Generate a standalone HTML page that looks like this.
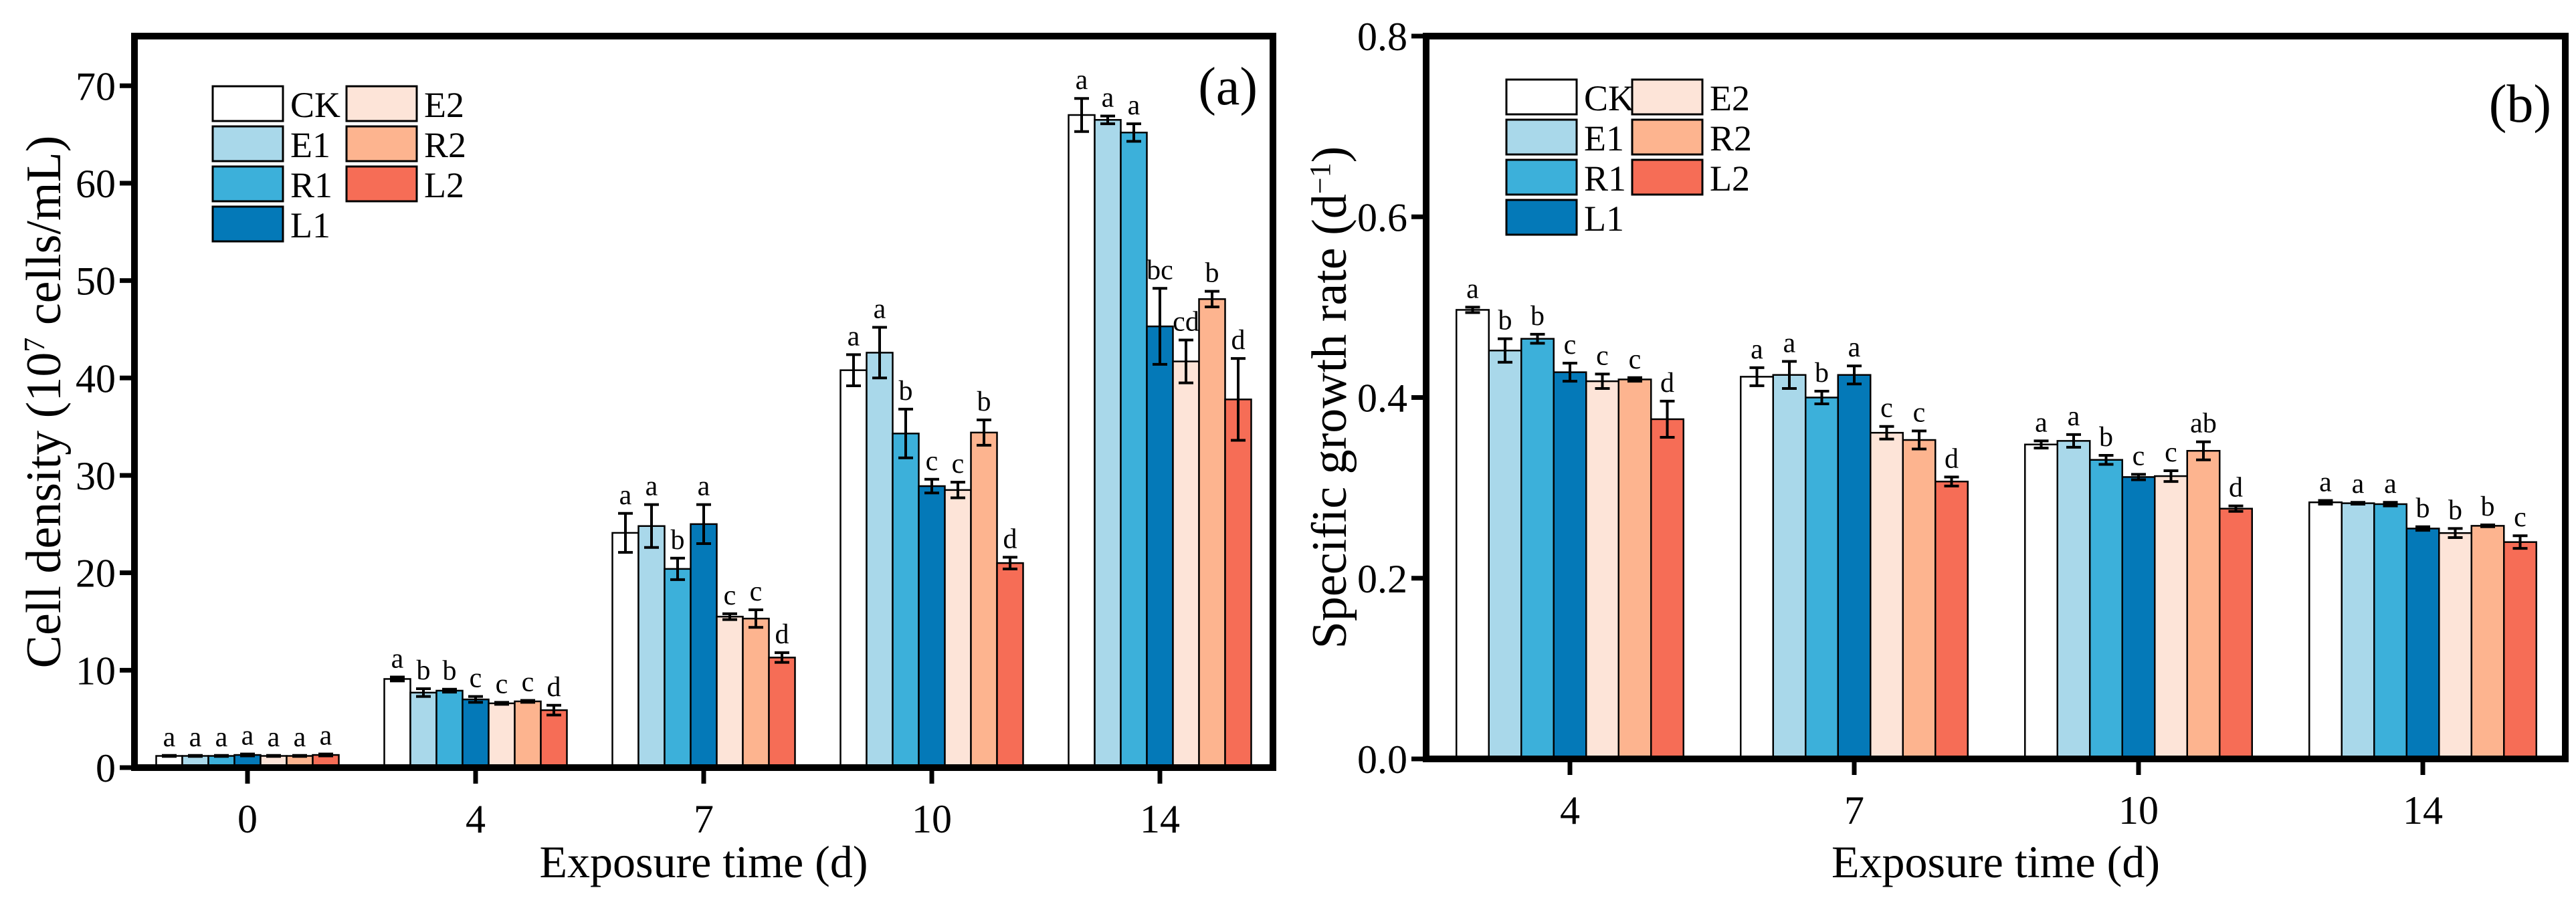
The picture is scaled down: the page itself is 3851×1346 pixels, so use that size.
<!DOCTYPE html>
<html><head><meta charset="utf-8"><style>
html,body{margin:0;padding:0;background:#fff}
svg{display:block;font-family:"Liberation Serif",serif}
</style></head><body>
<svg id="chart" width="3851" height="1346" viewBox="0 0 3851 1346" xmlns="http://www.w3.org/2000/svg"></svg>
<script>
const series = ['CK','E1','R1','L1','E2','R2','L2'];
const colors = ['#ffffff','#a9d8ea','#3cb0da','#0479b8','#fde4d8','#fdb48f','#f66d56'];
const catsA = ['0','4','7','10','14'];
const valsA = [
 [1.2,1.2,1.2,1.3,1.2,1.2,1.3],
 [9.1,7.7,7.9,7.0,6.6,6.8,5.9],
 [24.1,24.8,20.4,25.0,15.5,15.3,11.3],
 [40.8,42.6,34.3,28.9,28.5,34.4,21.0],
 [67.0,66.5,65.2,45.3,41.7,48.1,37.8]];
const errA = [
 [0.05,0.05,0.05,0.1,0.05,0.05,0.1],
 [0.2,0.4,0.15,0.3,0.1,0.1,0.5],
 [2.0,2.2,1.1,2.0,0.3,0.9,0.5],
 [1.6,2.6,2.5,0.7,0.8,1.3,0.6],
 [1.7,0.4,0.9,3.9,2.2,0.8,4.2]];
const letA = [
 ['a','a','a','a','a','a','a'],
 ['a','b','b','c','c','c','d'],
 ['a','a','b','a','c','c','d'],
 ['a','a','b','c','c','b','d'],
 ['a','a','a','bc','cd','b','d']];
const ticksA = [0,10,20,30,40,50,60,70];
const catsB = ['4','7','10','14'];
const valsB = [
 [0.497,0.452,0.465,0.428,0.418,0.420,0.376],
 [0.423,0.425,0.400,0.425,0.361,0.353,0.307],
 [0.348,0.352,0.331,0.312,0.313,0.341,0.277],
 [0.284,0.283,0.282,0.255,0.250,0.258,0.240]];
const errB = [
 [0.003,0.013,0.005,0.010,0.008,0.002,0.020],
 [0.010,0.015,0.007,0.010,0.007,0.010,0.005],
 [0.004,0.007,0.005,0.003,0.006,0.010,0.003],
 [0.002,0.001,0.002,0.002,0.005,0.001,0.007]];
const letB = [
 ['a','b','b','c','c','c','d'],
 ['a','a','b','a','c','c','d'],
 ['a','a','b','c','c','ab','d'],
 ['a','a','a','b','b','b','c']];
const ticksB = [0.0,0.2,0.4,0.6,0.8];
const ticksBLabels = ['0.0','0.2','0.4','0.6','0.8'];

const svg = document.getElementById('chart');
const NS = 'http://www.w3.org/2000/svg';
function mk(tag, attrs, parent){const e=document.createElementNS(NS,tag);for(const k in attrs)e.setAttribute(k,attrs[k]);(parent||svg).appendChild(e);return e;}

function panel(cfg){
  const g = mk('g',{});
  
  
  const {L,R,T,B,ymax,c0,step,bw} = cfg;
  const y = v => B - v/ymax*(B-T);
  const xc = i => c0 + i*step;
  cfg.vals.forEach((grp,i)=>{
    grp.forEach((v,j)=>{
      const x = xc(i) - 3.5*bw + j*bw;
      const r = mk('rect',{x:x,y:y(v),width:bw,height:B-y(v),fill:colors[j],stroke:'#000','stroke-width':2.5},g);
      
      
      const e = cfg.err[i][j], cx = x + bw/2;
      const eb = mk('path',{d:`M${cx} ${y(v+e)}V${y(v-e)}M${cx-11} ${y(v+e)}H${cx+11}M${cx-11} ${y(v-e)}H${cx+11}`,stroke:'#000','stroke-width':4,fill:'none'},g);
      
      
      const t = mk('text',{x:cx,y:y(v+e)-14,'font-size':42,'text-anchor':'middle'},g);
      t.textContent = cfg.lets[i][j];
      
      
    });
    mk('line',{x1:xc(i),x2:xc(i),y1:B,y2:B+24,stroke:'#000','stroke-width':7},g);
    const tl = mk('text',{x:xc(i),y:B+97,'font-size':60,'text-anchor':'middle'},g);
    tl.textContent = cfg.cats[i];
    
    
  });
  cfg.ticks.forEach((v,k)=>{
    mk('line',{x1:L-22,x2:L,y1:y(v),y2:y(v),stroke:'#000','stroke-width':7},g);
    const t = mk('text',{x:L-28,y:y(v)+21,'font-size':60,'text-anchor':'end'},g);
    t.textContent = cfg.tickLabels[k];
    
    
  });
  mk('rect',{x:L,y:T,width:R-L,height:B-T,fill:'none',stroke:'#000','stroke-width':10},g);
  const xt = mk('text',{x:(L+R)/2,y:1312,'font-size':68,'text-anchor':'middle'},g);
  xt.textContent = 'Exposure time (d)';
  
  
  const yt = mk('text',{x:0,y:0,'font-size':74,'text-anchor':'middle',transform:`translate(${cfg.ytx},${(T+B)/2}) rotate(-90)`},g);
  yt.innerHTML = cfg.ytitle;
  
  
  const pl = mk('text',{x:cfg.plx,y:cfg.ply,'font-size':80,'text-anchor':'end'},g);
  pl.textContent = cfg.plabel;
  
  
  const lg = mk('g',{},g);
  
  
  const pos = [[0,0],[0,1],[0,2],[0,3],[1,0],[1,1],[1,2]];
  series.forEach((s,j)=>{
    const bx = cfg.lx + pos[j][0]*cfg.lcol, by = cfg.ly + pos[j][1]*60;
    const e = mk('g',{},lg);
    
    
    mk('rect',{x:bx,y:by,width:105,height:52,fill:colors[j],stroke:'#000','stroke-width':3},e);
    const t = mk('text',{x:bx+116,y:by+46,'font-size':54},e);
    t.textContent = s;
  });
}

panel({name:'panel-a-cell-density',L:201,R:1903,T:54,B:1148,ymax:75.1,c0:370,step:341,bw:39,
  vals:valsA,err:errA,lets:letA,cats:catsA,ticks:ticksA,tickLabels:ticksA.map(String),
  ytx:90,ytitle:'Cell density (10<tspan baseline-shift="super" font-size="44">7</tspan> cells/mL)',
  plabel:'(a)',plx:1880,ply:156,lx:318,ly:129,lcol:200});
panel({name:'panel-b-growth-rate',L:2132,R:3835,T:54,B:1135,ymax:0.8,c0:2347,step:425,bw:48.5,
  vals:valsB,err:errB,lets:letB,cats:catsB,ticks:ticksB,tickLabels:ticksBLabels,
  ytx:2012,ytitle:'Specific growth rate (d<tspan baseline-shift="super" font-size="44">−1</tspan>)',
  plabel:'(b)',plx:3814,ply:182,lx:2252,ly:119,lcol:188});
</script>
</body></html>
